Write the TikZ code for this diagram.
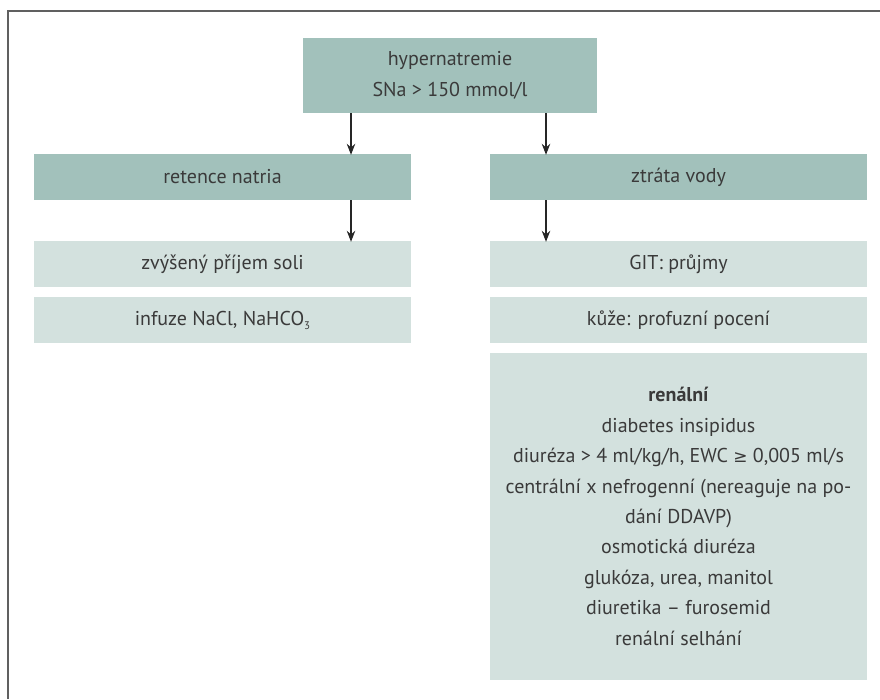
\documentclass[tikz,border=0pt]{standalone}
\usepackage{fontspec}
\setmainfont{PT Sans}
\newfontfamily\symfont{DejaVu Sans}
\usetikzlibrary{arrows.meta}
\definecolor{darkbox}{HTML}{A2C1BB}
\definecolor{lightbox}{HTML}{D3E1DE}
\definecolor{txt}{HTML}{3A3A3A}
\definecolor{frame}{HTML}{606060}
\tikzset{
  box/.style={fill=#1, draw=none, inner sep=0pt, minimum width=377pt, minimum height=46pt,
    text=txt, font=\fontsize{20}{30.4}\selectfont, align=center},
  arr/.style={draw=black!85, line width=1.2pt, -{Stealth[length=11pt,width=8.5pt]}},
}
\begin{document}
\begin{tikzpicture}[x=1pt,y=-1pt]
\useasboundingbox (0,0) rectangle (880,699);
\draw[frame, line width=2pt] (8,699) -- (8,11) -- (880,11);
\node[box=darkbox, minimum width=294pt, minimum height=75pt] (top) at (450,75.5)
  {hypernatremie\\SNa > 150 mmol/l};
\node[box=darkbox] (ret) at (222.5,177) {retence natria};
\node[box=darkbox] (ztr) at (678.5,177) {ztráta vody};
\node[box=lightbox] (soli) at (222.5,264) {zvýšený příjem soli};
\node[box=lightbox] (inf) at (222.5,320) {infuze NaCl, NaHCO\raisebox{-4pt}{\fontsize{11}{11}\selectfont 3}};
\node[box=lightbox] (git) at (678.5,264) {GIT: průjmy};
\node[box=lightbox] (kuze) at (678.5,320) {kůže: profuzní pocení};
\node[box=lightbox, minimum height=327pt] (ren) at (678.5,516.5)
  {\textbf{renální}\\diabetes insipidus\\diuréza > 4 ml/kg/h, EWC {\symfont\fontsize{17}{17}\selectfont ≥} 0,005 ml/s\\centrální x nefrogenní (nereaguje na po-\\dání DDAVP)\\osmotická diuréza\\glukóza, urea, manitol\\diuretika – furosemid\\renální selhání};
\coordinate (a1) at (351,0);
\coordinate (a2) at (546,0);
\draw[arr] (top.south -| a1) -- ([yshift=-1pt]ret.north -| a1);
\draw[arr] (top.south -| a2) -- ([yshift=-1pt]ztr.north -| a2);
\draw[arr] (ret.south -| a1) -- ([yshift=-1pt]soli.north -| a1);
\draw[arr] (ztr.south -| a2) -- ([yshift=-1pt]git.north -| a2);
\end{tikzpicture}
\end{document}
